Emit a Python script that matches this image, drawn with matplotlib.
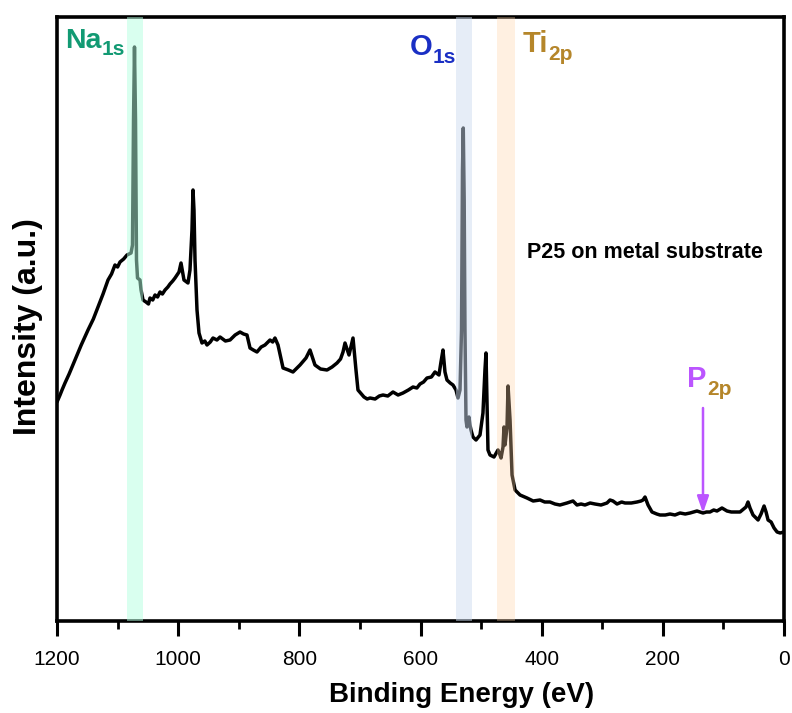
import matplotlib
matplotlib.use("Agg")
import matplotlib.pyplot as plt
from matplotlib import font_manager

# ---------------- data ----------------
binding_energy = [
    1200.0, 1195.0, 1191.7, 1186.8, 1180.0, 1170.3, 1160.0, 1148.8, 1140.0, 1132.3,
    1124.0, 1115.8, 1110.0, 1104.3, 1100.0, 1096.0, 1090.0, 1084.5,
    1077.8, 1075.4, 1073.7, 1072.1, 1070.4, 1068.8, 1067.1, 1063.0, 1061.3, 1058.0,
    1053.1, 1049.0, 1046.5, 1042.0, 1038.2, 1034.0, 1030.0, 1026.0, 1021.7, 1017.0,
    1013.5, 1009.0, 1005.2, 998.6, 995.3, 990.4,
    983.8, 980.5, 977.2, 975.5, 973.9, 972.2, 968.9, 965.6, 960.7, 956.0, 952.4,
    947.0, 942.5, 936.0, 930.9, 922.0, 914.4, 906.0, 897.9, 892.0, 886.4, 881.4,
    876.0, 869.9, 863.0, 856.7, 848.4, 844.0, 840.2,
    835.2, 826.9, 818.0, 810.5, 804.0, 798.9, 789.0, 782.4, 774.2, 765.0, 754.3,
    746.0, 737.8, 732.0, 727.9, 724.6, 718.0, 711.4, 706.5, 703.2, 693.3, 688.0,
    683.3, 675.0, 668.0, 661.9, 654.0, 645.4, 637.0, 628.9, 620.0,
    612.4, 606.0, 600.8, 595.0, 589.3, 582.0, 576.1, 569.5, 566.2, 562.9, 559.6,
    556.3, 551.0, 546.4,
    541.4, 538.1, 534.8, 532.3, 530.7, 529.4, 527.9, 526.6, 524.9, 523.3,
    521.7, 520.0, 518.3, 516.7, 513.4, 508.4, 501.8, 496.9, 493.6, 491.9,
    490.3, 488.6, 485.3, 478.7, 472.1, 468.8, 467.1, 463.8, 462.2, 460.5,
    457.2, 455.5, 452.2, 448.9, 443.9, 435.7, 424.2, 414.0, 402.7, 395.0, 386.3,
    378.0, 369.8, 358.2, 348.3, 341.7, 335.0, 328.5, 320.0, 312.0, 302.0, 292.2,
    287.2, 282.3, 275.6, 268.0, 262.4, 252.0, 242.6, 236.0, 232.7, 229.4, 224.4,
    217.9, 210.0, 204.7, 196.0, 188.2, 180.0, 171.6, 163.0, 155.1, 149.0, 143.6,
    133.7, 128.0, 122.2, 116.0, 110.6, 102.4, 94.1, 87.0, 80.9, 72.6, 62.7, 59.4, 56.1,
    51.1, 42.8, 37.9, 32.9, 29.6, 26.3, 21.3, 16.4, 11.4, 6.4,
    0.0,
]
intensity = [
    219, 226, 231, 238, 247, 261, 276, 291, 302, 314,
    327, 341, 347, 356, 354, 359, 362, 366,
    368, 376, 501, 574, 501, 361, 343, 341, 331, 321,
    319, 317, 323, 321, 326, 324, 329, 327, 331, 334,
    337, 340, 343, 349, 358, 341,
    338, 351, 391, 431, 411, 361, 311, 288, 278, 280, 276,
    279, 283, 281, 284, 280, 281, 286, 289, 287, 286, 273,
    271, 269, 274, 276, 281, 279, 283,
    276, 253, 251, 249, 253, 256, 263, 271, 256, 252, 251,
    254, 258, 262, 269, 278, 266, 283, 251, 231, 224, 222,
    223, 222, 225, 226, 225, 229, 226, 228, 231,
    234, 233, 237, 239, 243, 244, 249, 246, 259, 271, 249,
    241, 238, 236,
    231, 223, 231, 291, 451, 493, 421, 291, 201, 194,
    201, 204, 196, 191, 184, 181, 186, 208, 251, 268,
    221, 171, 166, 164, 171, 166, 163, 174, 194, 176,
    194, 235, 201, 146, 131, 126, 123, 120, 121, 119, 119,
    117, 116, 118, 120, 116, 117, 116, 118, 117, 116, 118,
    121, 120, 117, 119, 118, 118, 119, 120, 121, 124, 116,
    109, 107, 106, 106, 107, 106, 108, 107, 108, 109, 110,
    108, 109, 109, 111, 110, 113, 110, 109, 109, 109, 114, 119, 113,
    106, 101, 107, 115, 109, 101, 99, 93, 89, 88,
    89,
]

x_ticks = [1200, 1000, 800, 600, 400, 200, 0]
x_tick_labels = ["1200", "1000", "800", "600", "400", "200", "0"]

band_ranges = {"Na": (1058.0, 1084.5), "O": (515.0, 541.4), "Ti": (444.0, 473.7)}
band_colors = {"Na": "#b4ffe0", "O": "#ccdcf0", "Ti": "#ffd2a6"}
band_alpha = {"Na": 0.5, "O": 0.49, "Ti": 0.33}

p2p_energy = 133.7
p2p_level = 108

# ---------------- figure ----------------
W, H = 792, 713
fig = plt.figure(figsize=(W / 100, H / 100), dpi=100)
L, R, T, B = 57, 784, 17, 621
ax = fig.add_axes([L / W, (H - B) / H, (R - L) / W, (B - T) / H])

BOLD = ["Liberation Sans", "DejaVu Sans"]
names = {f.name for f in font_manager.fontManager.ttflist}
TICKF = ["Liberation Sans Narrow"] if "Liberation Sans Narrow" in names else ["Liberation Sans"]

ax.plot(binding_energy, intensity, color="black", lw=2.5, zorder=2,
        solid_joinstyle="round", solid_capstyle="round")

for k, (lo, hi) in band_ranges.items():
    ax.axvspan(lo, hi, color=band_colors[k], alpha=band_alpha[k], lw=0, zorder=3)

ax.set_xlim(1200, 0)
ax.set_ylim(0, 604)
ax.set_yticks([])
ax.set_xticks(x_ticks)
ax.set_xticklabels(x_tick_labels, fontsize=15, family=TICKF)
ax.set_xticks([1100, 900, 700, 500, 300, 100], minor=True)
ax.tick_params(axis="x", which="major", direction="out", length=11, width=2.2, pad=10)
ax.tick_params(axis="x", which="minor", direction="out", length=6, width=2.0)
for s in ax.spines.values():
    s.set_linewidth(2.6)

ax.set_xlabel("Binding Energy (eV)", fontsize=20, fontweight="bold", family=BOLD)
ax.xaxis.set_label_coords((462 - L) / (R - L), (B - 682) / (B - T))
ax.set_ylabel("Intensity (a.u.)", fontsize=23, fontweight="bold", family=BOLD)
ax.yaxis.set_label_coords((43 - L) / (R - L), (B - 327) / (B - T))


def pos(px, py):
    return ((px - L) / (R - L), (B - py) / (B - T))


def label(px, py, s, size, color):
    ax.text(*pos(px, py), s, transform=ax.transAxes, fontsize=size, fontweight="bold",
            family=BOLD, color=color, ha="left", va="baseline", zorder=5)


label(65, 48, "Na", 20.5, "#129a73")
label(102, 55, "1s", 15, "#129a73")
label(410, 55, "O", 21, "#1a2fc4")
label(433, 63, "1s", 15, "#1a2fc4")
label(523, 52, "Ti", 21, "#b5862a")
label(548, 60, "2p", 15, "#b5862a")
label(687, 387, "P", 21, "#bb55ff")
label(707, 395, "2p", 15, "#b5862a")
label(527, 258, "P25 on metal substrate", 15.5, "black")

ax.annotate("", xy=(p2p_energy, p2p_level), xytext=(p2p_energy, 621 - 408),
            arrowprops=dict(arrowstyle="-|>,head_length=1.0,head_width=0.35",
                            color="#bb55ff", lw=1.8, shrinkA=0, shrinkB=0), zorder=5)

fig.savefig("out.png", dpi=100)
